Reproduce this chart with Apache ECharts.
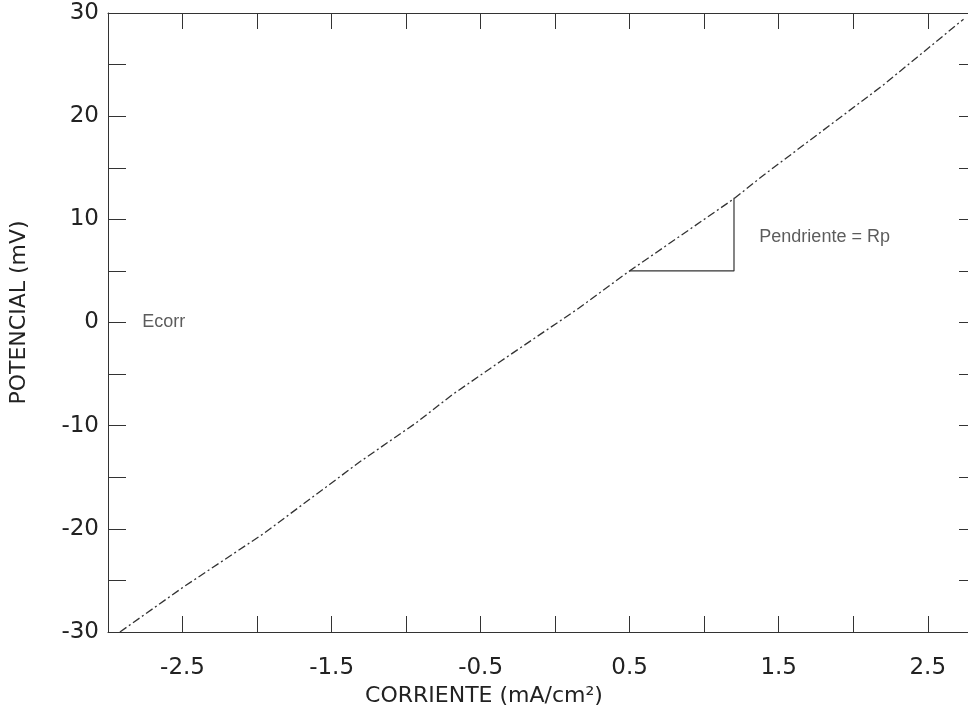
<!DOCTYPE html>
<html>
<head>
<meta charset="utf-8">
<script src="https://cdn.jsdelivr.net/npm/echarts@6/dist/echarts.min.js"></script>
<style>
html,body{margin:0;padding:0;background:#fff;}
#chart{width:968px;height:714px;}
</style>
</head>
<body>
<div id="chart"></div>
<script>
// Data
var corriente = [-2.92, -2.49, -1.96, -1.69, -1.31, -0.93, -0.69, -0.37, 0.16, 0.49, 1.20, 1.40, 2.20, 2.74];
var potencial = [-30.0, -25.6, -20.5, -17.6, -13.5, -9.7, -7.0, -3.8, 1.4, 4.9, 12.0, 14.3, 23.0, 29.4];
var trianguloX = [0.5, 1.2, 1.2];
var trianguloY = [5.0, 5.0, 12.1];
var etiquetaPendiente = {x: 1.37, y: 8.3, text: 'Pendriente = Rp'};
var etiquetaEcorr = {x: -2.77, y: 0, text: 'Ecorr'};
var xLabels = [-2.5, -1.5, -0.5, 0.5, 1.5, 2.5];
var yLabels = [-30, -20, -10, 0, 10, 20, 30];

var lineData = corriente.map(function (x, i) { return [x, potencial[i]]; });
var triData = trianguloX.map(function (x, i) { return [x, trianguloY[i]]; });

var FONT = 'DejaVu Sans, sans-serif';
var FONT2 = 'Liberation Sans, Arial, sans-serif';
var AX = '#333';

function xFmt(v) {
  for (var i = 0; i < xLabels.length; i++) if (Math.abs(xLabels[i] - v) < 1e-6) return String(xLabels[i]);
  return '';
}
function yFmt(v) {
  for (var i = 0; i < yLabels.length; i++) if (Math.abs(yLabels[i] - v) < 1e-6) return String(yLabels[i]);
  return '';
}

var chart = echarts.init(document.getElementById('chart'), null, {renderer: 'canvas'});
chart.setOption({
  animation: false,
  backgroundColor: '#fff',
  grid: {left: 104, right: 0, top: 13, bottom: 82},
  xAxis: [{
    type: 'value', min: -3, max: 2.77, interval: 0.5,
    name: 'CORRIENTE (mA/cm²)', nameLocation: 'middle', nameGap: 52,
    nameTextStyle: {fontFamily: FONT, fontSize: 22, color: '#222', padding: [0, 0, 0, -108]},
    axisLine: {show: true, onZero: false, lineStyle: {color: AX, width: 1}},
    axisTick: {show: true, inside: true, length: 16, lineStyle: {color: AX}},
    axisLabel: {formatter: xFmt, fontFamily: FONT, fontSize: 23, color: '#222', margin: 25, showMinLabel: false, showMaxLabel: false},
    splitLine: {show: false}
  }, {
    type: 'value', position: 'top', min: -3, max: 2.77, interval: 0.5,
    axisLine: {show: true, onZero: false, lineStyle: {color: AX, width: 1}},
    axisTick: {show: true, inside: true, length: 16, lineStyle: {color: AX}},
    axisLabel: {show: false}, splitLine: {show: false}
  }],
  yAxis: [{
    type: 'value', min: -30, max: 30, interval: 5,
    name: 'POTENCIAL (mV)', nameLocation: 'middle', nameGap: 78, nameRotate: 90,
    nameTextStyle: {fontFamily: FONT, fontSize: 22, color: '#222', padding: [0, 0, 0, 20]},
    axisLine: {show: true, onZero: false, lineStyle: {color: AX, width: 1}},
    axisTick: {show: true, inside: true, length: 18, lineStyle: {color: AX}},
    axisLabel: {formatter: yFmt, fontFamily: FONT, fontSize: 23, color: '#222', margin: 9},
    splitLine: {show: false}
  }, {
    type: 'value', position: 'right', min: -30, max: 30, interval: 5,
    axisLine: {show: false, onZero: false},
    axisTick: {show: true, inside: true, length: 9, lineStyle: {color: AX}},
    axisLabel: {show: false}, splitLine: {show: false}
  }],
  series: [{
    type: 'line', data: lineData, showSymbol: false, smooth: false,
    lineStyle: {color: '#333', width: 1.3, type: [8, 3, 2, 3]}, z: 3
  }, {
    type: 'line', data: triData, showSymbol: false,
    lineStyle: {color: '#333', width: 1.2}, z: 2
  }, {
    type: 'scatter', symbolSize: 0,
    data: [[etiquetaPendiente.x, etiquetaPendiente.y, etiquetaPendiente.text],
           [etiquetaEcorr.x, etiquetaEcorr.y, etiquetaEcorr.text]],
    label: {show: true, position: 'right', distance: 0,
      formatter: function (p) { return p.data[2]; },
      fontFamily: FONT2, fontSize: 18, color: '#333'}
  }]
});
</script>
</body>
</html>
